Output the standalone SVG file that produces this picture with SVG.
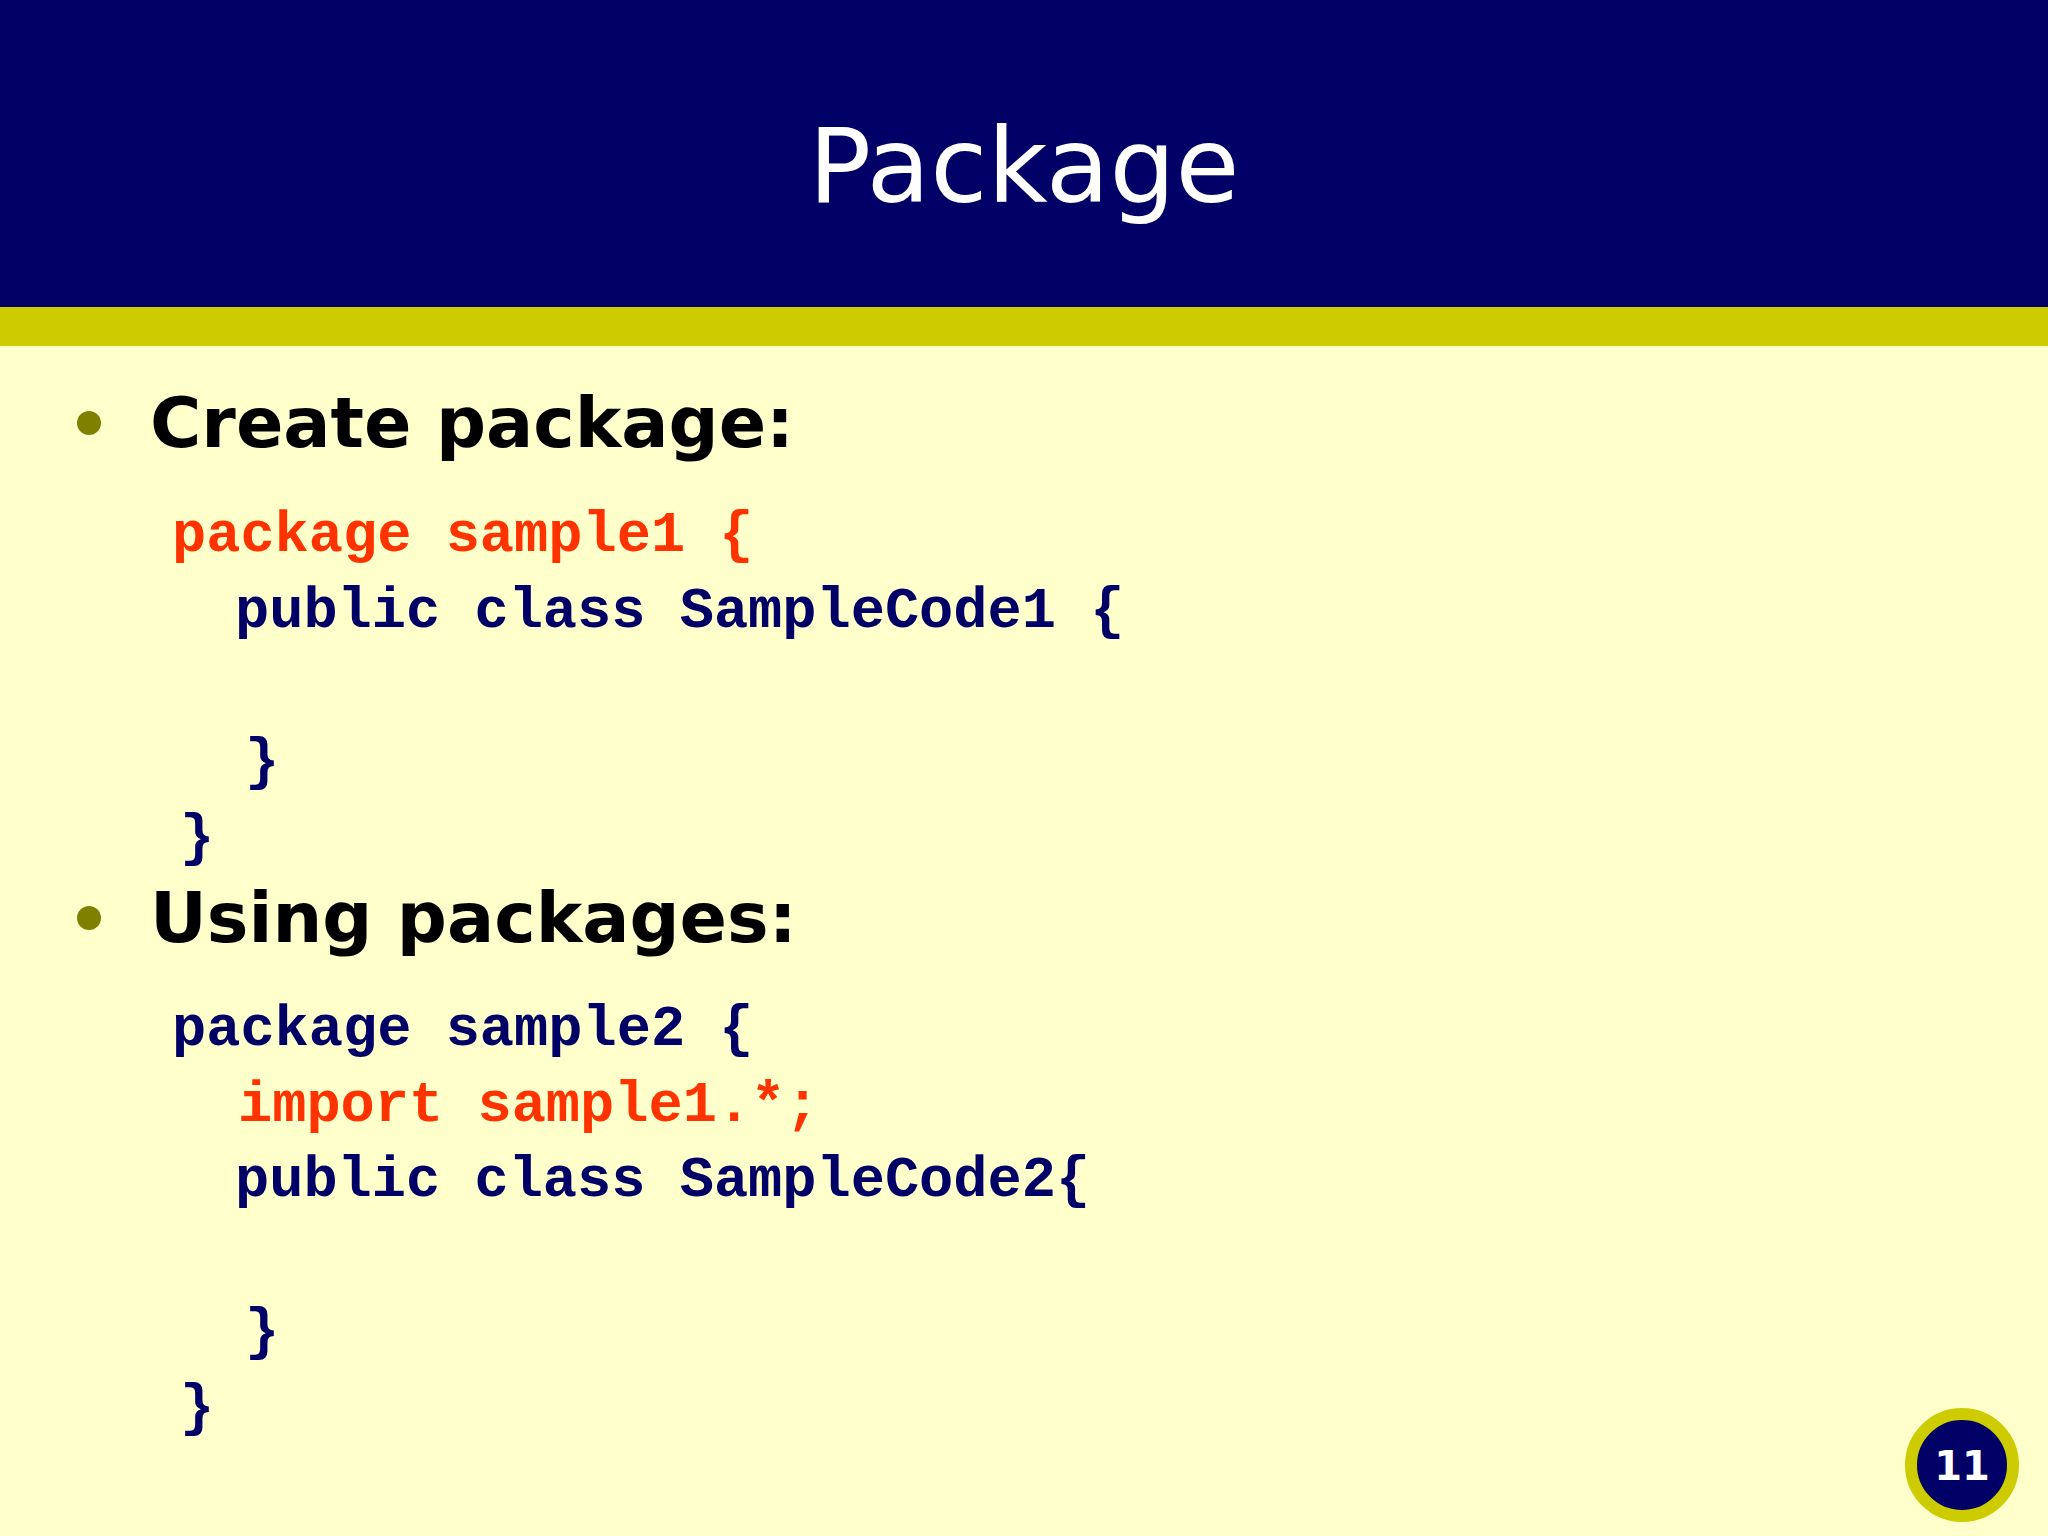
<svg xmlns="http://www.w3.org/2000/svg" width="2048" height="1536" viewBox="0 0 2048 1536">
<style>
.code{font-family:"Liberation Mono","Courier New",monospace;font-weight:bold;font-size:57px}
.r{fill:#FF3300}.n{fill:#000066}
.bul{font-family:"DejaVu Sans",Verdana,sans-serif;font-weight:bold;font-size:70px;fill:#000}
</style>
<rect width="2048" height="1536" fill="#FFFFCC"/>
<rect width="2048" height="307" fill="#000066"/>
<rect y="307" width="2048" height="39" fill="#CCCC00"/>
<text x="1024" y="202" text-anchor="middle" font-family="DejaVu Sans,Verdana,sans-serif" font-size="104" fill="#fff">Package</text>
<g id="b1"><circle cx="89" cy="423" r="12" fill="#808000"/><text class="bul" x="150" y="447">Create package:</text></g>
<g id="code1" class="code">
<text class="r" x="172" y="551" xml:space="preserve">package sample1 {</text>
<text class="n" x="235" y="627">public class SampleCode1 {</text>
<text class="n" x="245" y="778">}</text>
<text class="n" x="180" y="854">}</text>
</g>
<g id="b2"><circle cx="89" cy="918" r="12" fill="#808000"/><text class="bul" x="150" y="942">Using packages:</text></g>
<g id="code2" class="code">
<text class="n" x="172" y="1045">package sample2 {</text>
<text class="r" x="238" y="1121">import sample1.*;</text>
<text class="n" x="235" y="1196">public class SampleCode2{</text>
<text class="n" x="245" y="1348">}</text>
<text class="n" x="180" y="1424">}</text>
</g>
<g id="page"><circle cx="1962" cy="1465" r="51" fill="#000066" stroke="#CCCC00" stroke-width="12"/>
<text x="1962" y="1480" text-anchor="middle" font-family="DejaVu Sans,Verdana,sans-serif" font-weight="bold" font-size="40" fill="#fff">11</text></g>
</svg>
